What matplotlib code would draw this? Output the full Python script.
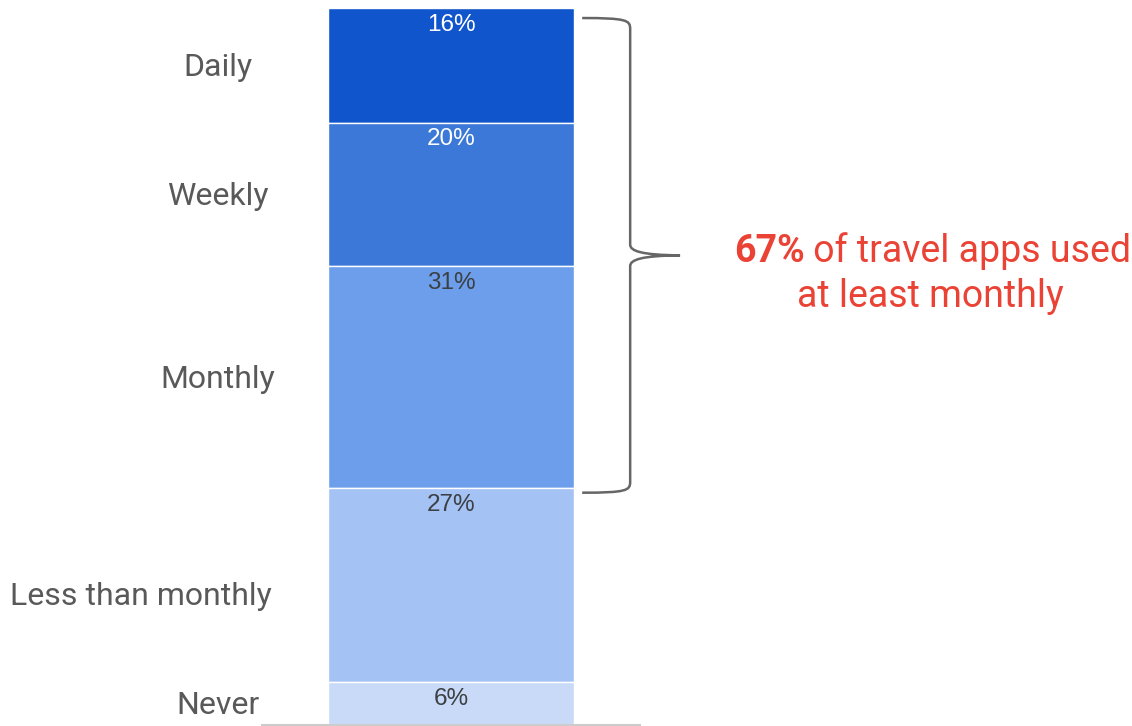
import matplotlib
matplotlib.use("Agg")
from matplotlib import pyplot as plt
from matplotlib.path import Path
from matplotlib.patches import PathPatch

# data
categories = ["Daily", "Weekly", "Monthly", "Less than monthly", "Never"]
shares = [16, 20, 31, 27, 6]
colors = ["#1155cc", "#3c78d8", "#6d9eeb", "#a4c2f4", "#c9daf8"]
value_colors = ["white", "white", "#3c4043", "#3c4043", "#3c4043"]
callout_bold = "67%"
callout_rest = " of travel apps used"
callout_line2 = "at least monthly"

W, H = 1132, 726
fig = plt.figure(figsize=(W / 100, H / 100), dpi=100)
ax = fig.add_axes([262 / W, 1 - 725 / H, (640 - 262) / W, (725 - 8) / H])
ax.set_xlim(-0.5, 0.5)
ax.set_ylim(100, 0)

# stacked single bar
start = 0
for cat, val, col, tcol in zip(categories, shares, colors, value_colors):
    ax.bar(0, val, bottom=start, width=0.65, color=col, edgecolor="white", linewidth=1)
    ax.text(0, start + 0.8, "{}%".format(val), ha="center", va="top",
            fontsize=17.5, color=tcol, family="Liberation Sans")
    mid = start + val / 2
    if len(cat) > 10:
        ax.text(-0.475, mid + 1.6, cat, ha="right", va="center", fontsize=23,
                color="#595959", family="Roboto", clip_on=False)
    else:
        ax.text(-0.616, mid + 0.3, cat, ha="center", va="center", fontsize=23,
                color="#595959", family="Roboto", clip_on=False)
    start += val

# axis styling
for side in ["top", "left", "right"]:
    ax.spines[side].set_visible(False)
ax.spines["bottom"].set_color("#cccccc")
ax.spines["bottom"].set_linewidth(1.5)
ax.set_xticks([])
ax.set_yticks([])
ax.patch.set_alpha(0)

# curly brace next to the first three segments
top = 1.4
bot = sum(shares[:3]) + 0.6
mid = (top + bot) / 2
x0, x1, x2 = 0.347, 0.474, 0.606
verts = [
    (x0, top), (x1 - 0.01, top), (x1, top + 0.3), (x1, top + 1.5),
    (x1, mid - 1.5),
    (x1, mid - 0.6), (x1 + 0.03, mid - 0.05), (x2, mid),
    (x1 + 0.03, mid + 0.05), (x1, mid + 0.6), (x1, mid + 1.5),
    (x1, bot - 1.5),
    (x1, bot - 0.3), (x1 - 0.01, bot), (x0, bot),
]
codes = [Path.MOVETO, Path.CURVE4, Path.CURVE4, Path.CURVE4,
         Path.LINETO,
         Path.CURVE4, Path.CURVE4, Path.CURVE4,
         Path.CURVE4, Path.CURVE4, Path.CURVE4,
         Path.LINETO,
         Path.CURVE4, Path.CURVE4, Path.CURVE4]
ax.add_patch(PathPatch(Path(verts, codes), facecolor="none", edgecolor="#666666",
                       linewidth=1.8, clip_on=False))

# callout text
red = "#ea4335"
t1 = ax.text(0.748, 33.9, callout_bold, ha="left", va="center", fontsize=27,
             fontweight="bold", color=red, family="Roboto", clip_on=False)
ax.annotate(callout_rest, xy=(1, 0), xycoords=t1, ha="left", va="bottom",
            fontsize=27, color=red, family="Roboto")
ax.text(1.267, 40.2, callout_line2, ha="center", va="center", fontsize=27,
        color=red, family="Roboto", clip_on=False)

plt.savefig("out.png", dpi=100)
